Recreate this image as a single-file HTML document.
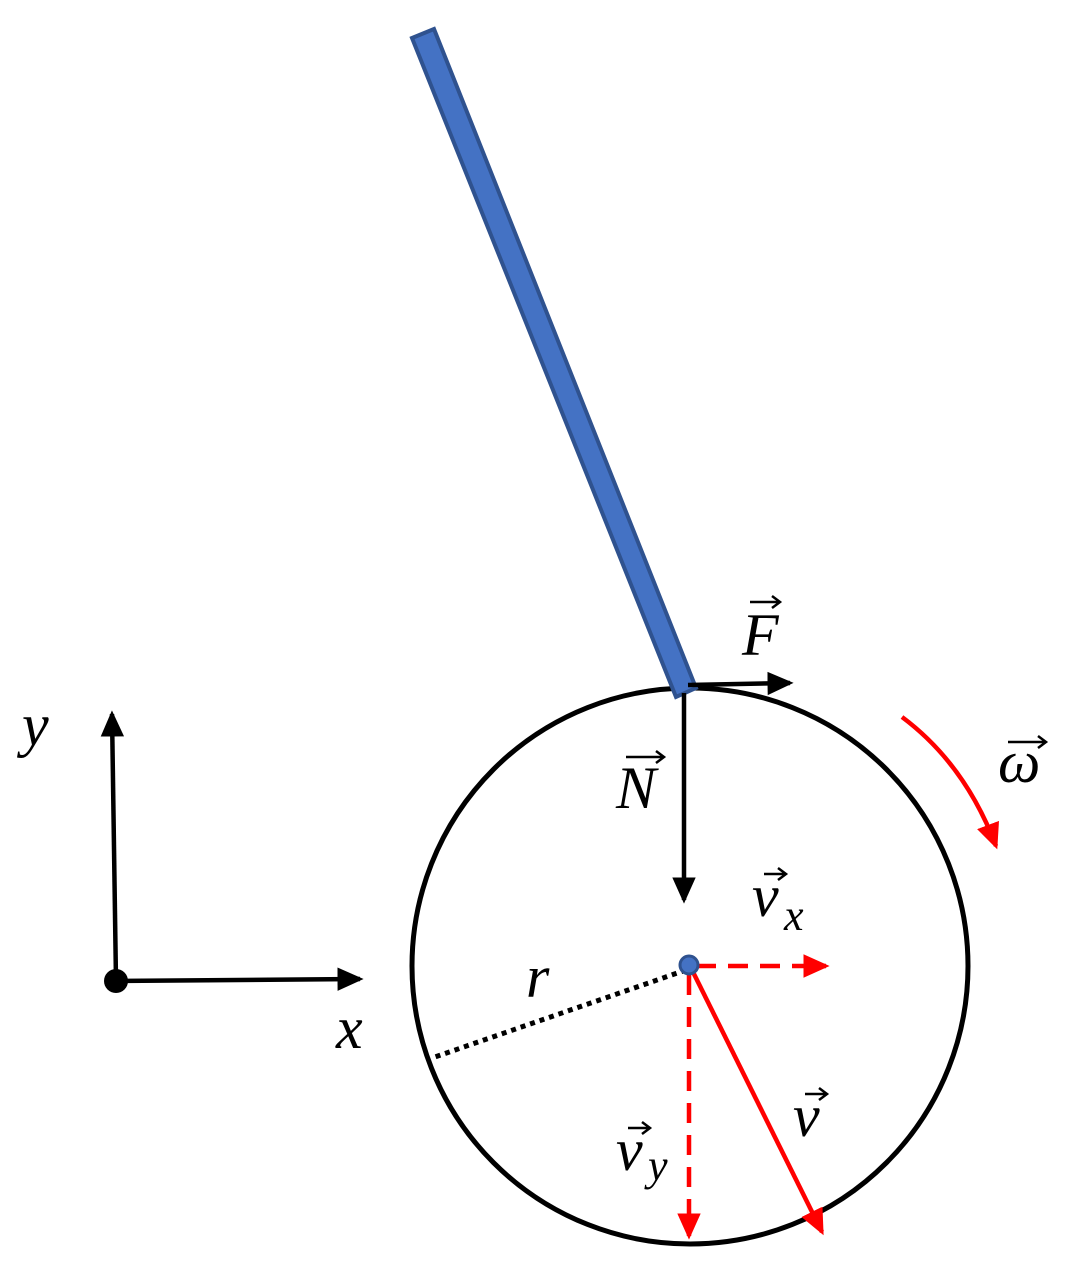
<!DOCTYPE html>
<html><head><style>html,body{margin:0;padding:0;background:#fff}svg{display:block}
text{font-family:"Liberation Serif",serif;font-style:italic;fill:#000}</style></head><body>
<svg width="1076" height="1276" viewBox="0 0 1076 1276">
<defs>
<marker id="ab" markerWidth="6" markerHeight="6" refX="5" refY="3" orient="auto" markerUnits="strokeWidth"><path d="M0,0.4 L5.8,3 L0,5.6 Z" fill="#000"/></marker>
<marker id="ar" markerWidth="6" markerHeight="6" refX="5" refY="3" orient="auto" markerUnits="strokeWidth"><path d="M0,0.4 L5.8,3 L0,5.6 Z" fill="#f00"/></marker>
</defs>
<circle cx="690" cy="966" r="278" fill="none" stroke="#000" stroke-width="5"/>
<polygon points="412,38 434,29 696,688 676,697" fill="#4472C4" stroke="#2F528F" stroke-width="4"/>
<line x1="116" y1="981" x2="112" y2="714" stroke="#000" stroke-width="4.5" marker-end="url(#ab)"/>
<line x1="116" y1="981" x2="360" y2="979" stroke="#000" stroke-width="4.5" marker-end="url(#ab)"/>
<circle cx="116" cy="981" r="12" fill="#000"/>
<line x1="688" y1="685" x2="790" y2="683" stroke="#000" stroke-width="4.5" marker-end="url(#ab)"/>
<line x1="684" y1="693" x2="684" y2="900" stroke="#000" stroke-width="4.5" marker-end="url(#ab)"/>
<line x1="686" y1="970" x2="432" y2="1058" stroke="#000" stroke-width="5" stroke-dasharray="5,5"/>
<line x1="696" y1="966" x2="826" y2="966" stroke="#f00" stroke-width="4.5" stroke-dasharray="20,12" marker-end="url(#ar)"/>
<line x1="689" y1="975" x2="689" y2="1236" stroke="#f00" stroke-width="4.5" stroke-dasharray="20,12" marker-end="url(#ar)"/>
<line x1="693" y1="972" x2="822" y2="1232" stroke="#f00" stroke-width="4.5" marker-end="url(#ar)"/>
<path d="M902,717 Q965,764 996,846" fill="none" stroke="#f00" stroke-width="4.5" marker-end="url(#ar)"/>
<circle cx="689" cy="965" r="9" fill="#4472C4" stroke="#2F528F" stroke-width="3"/>
<text x="22" y="745" font-size="60">y</text>
<text x="336" y="1048" font-size="60">x</text>
<text x="742" y="655" font-size="60">F</text>
<path d="M750,602 h30 M772,596 l8,6 -8,6" stroke="#000" stroke-width="2.5" fill="none"/>
<text x="616" y="808" font-size="60">N</text>
<path d="M626,757 h38 M656,751 l8,6 -8,6" stroke="#000" stroke-width="2.5" fill="none"/>
<text x="998" y="782" font-size="60">ω</text>
<path d="M1008,742 h38 M1038,736 l8,6 -8,6" stroke="#000" stroke-width="2.5" fill="none"/>
<text x="752" y="916" font-size="60">v</text><text x="784" y="930" font-size="44">x</text>
<path d="M764,874 h22 M778,868 l8,6 -8,6" stroke="#000" stroke-width="2.5" fill="none"/>
<text x="526" y="997" font-size="60">r</text>
<text x="793" y="1136" font-size="60">v</text>
<path d="M805,1094 h22 M819,1088 l8,6 -8,6" stroke="#000" stroke-width="2.5" fill="none"/>
<text x="616" y="1170" font-size="60">v</text><text x="648" y="1180" font-size="44">y</text>
<path d="M628,1128 h22 M642,1122 l8,6 -8,6" stroke="#000" stroke-width="2.5" fill="none"/>
</svg>
</body></html>
